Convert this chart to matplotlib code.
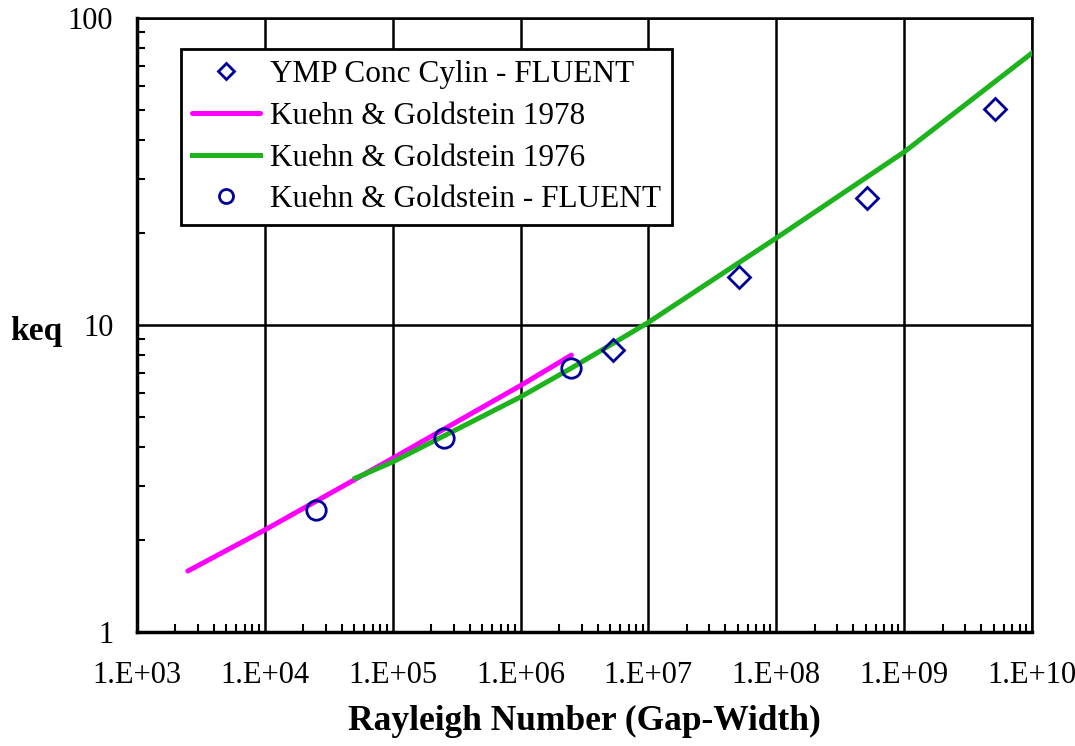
import numpy as np
import matplotlib.pyplot as plt
from matplotlib.ticker import LogLocator, NullFormatter, FixedLocator

plt.rcParams['font.family'] = ['Liberation Serif', 'DejaVu Serif']

# Kuehn & Goldstein 1978 correlation (magenta)
ra_kg78 = [2.5e3, 1e4, 1e5, 1e6, 2.5e6]
keq_kg78 = [1.58, 2.15, 3.68, 6.35, 7.98]

# Kuehn & Goldstein 1976 (green)
ra_kg76 = [5.1e4, 1e5, 1e6, 2.5e6, 7.2e6, 1e7, 1e8, 1e9, 5.1e9, 1e10]
keq_kg76 = [3.17, 3.58, 5.83, 7.24, 9.4, 10.2, 19.2, 36.6, 61.9, 76.9]

# Kuehn & Goldstein - FLUENT (circles)
ra_kgf = [2.5e4, 2.5e5, 2.5e6]
keq_kgf = [2.50, 4.29, 7.23]

# YMP Conc Cylin - FLUENT (diamonds)
ra_ymp = [5.3e6, 5.1e7, 5.1e8, 5.1e9]
keq_ymp = [8.29, 14.3, 26.0, 50.4]

xtick_labels = ['1.E+03', '1.E+04', '1.E+05', '1.E+06', '1.E+07', '1.E+08', '1.E+09', '1.E+10']
ytick_labels = ['1', '10', '100']

navy = '#000099'

fig = plt.figure(figsize=(10.75, 7.46), dpi=100)
ax = fig.add_axes([0.1274, 0.1528, 0.8326, 0.8231])

ax.plot(ra_ymp, keq_ymp, linestyle='none', marker='D', markersize=11,
        markerfacecolor='none', markeredgecolor=navy, markeredgewidth=2,
        label='YMP Conc Cylin - FLUENT', zorder=5)
ax.plot(ra_kg78, keq_kg78, color='#FF00FF', linewidth=3.6,
        solid_capstyle='round', label='Kuehn & Goldstein 1978', zorder=3)
ax.plot(ra_kg76, keq_kg76, color='#1DB31D', linewidth=3.6,
        label='Kuehn & Goldstein 1976', zorder=4)
ax.plot(ra_kgf, keq_kgf, linestyle='none', marker='o', markersize=14,
        markerfacecolor='none', markeredgecolor=navy, markeredgewidth=2,
        label='Kuehn & Goldstein - FLUENT', zorder=5)

ax.set_xscale('log')
ax.set_yscale('log')
ax.set_xlim(1e3, 1e10)
ax.set_ylim(1, 100)

ax.xaxis.set_major_locator(FixedLocator([10.0 ** k for k in range(3, 11)]))
ax.set_xticklabels(xtick_labels)
ax.yaxis.set_major_locator(FixedLocator([1, 10, 100]))
ax.set_yticklabels(ytick_labels)
ax.xaxis.set_minor_locator(LogLocator(base=10, subs=np.arange(2, 10), numticks=20))
ax.yaxis.set_minor_locator(LogLocator(base=10, subs=np.arange(2, 10), numticks=20))
ax.xaxis.set_minor_formatter(NullFormatter())
ax.yaxis.set_minor_formatter(NullFormatter())

ax.tick_params(which='major', length=0, labelsize=22)
ax.tick_params(axis='x', which='major', pad=21)
ax.tick_params(axis='y', which='major', pad=17)
ax.tick_params(which='minor', direction='in', length=6, width=1.5,
               top=False, right=False)

ax.grid(True, which='major', color='black', linewidth=1.8)
for s in ax.spines.values():
    s.set_linewidth(1.8)
ax.spines['bottom'].set_linewidth(2.5)
ax.spines['left'].set_linewidth(2.5)

ax.set_xlabel('Rayleigh Number (Gap-Width)', fontsize=25.5, fontweight='bold', va='center')
ax.xaxis.set_label_coords(0.5, -0.145)
ax.set_ylabel('keq', fontsize=24, fontweight='bold', rotation=0, va='center')
ax.yaxis.set_label_coords(-0.113, 0.49)

leg = ax.legend(loc='upper left', bbox_to_anchor=(0.049, 0.9495), borderaxespad=0,
                fontsize=22.5, fancybox=False, framealpha=1, edgecolor='black',
                handlelength=2.2, handletextpad=0.3, labelspacing=0.41,
                borderpad=0.35, markerscale=0.72)
leg.get_frame().set_linewidth(2)

fig.savefig('out.png', dpi=100)
